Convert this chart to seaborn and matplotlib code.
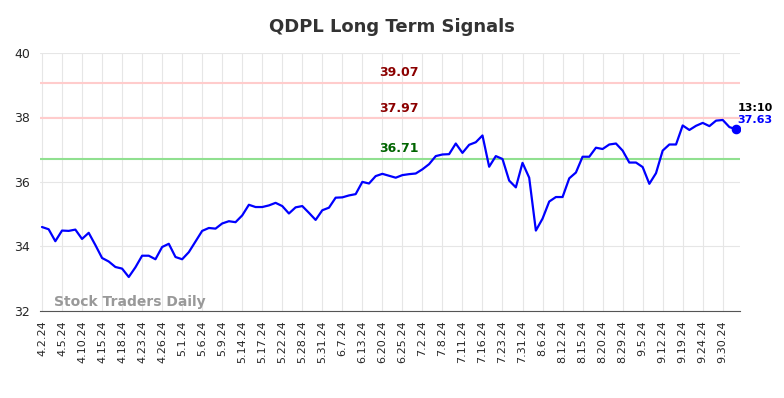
import numpy as np
import pandas as pd
import matplotlib
matplotlib.use("Agg")
import matplotlib.pyplot as plt
import seaborn as sns

ticker = "QDPL"
prices = [34.60, 34.53, 34.16, 34.49, 34.48, 34.52, 34.23, 34.42, 34.04, 33.64,
          33.53, 33.36, 33.31, 33.05, 33.35, 33.71, 33.71, 33.60, 33.98, 34.08,
          33.67, 33.60, 33.82, 34.15, 34.48, 34.57, 34.55, 34.71, 34.78, 34.75,
          34.96, 35.29, 35.22, 35.22, 35.27, 35.35, 35.25, 35.02, 35.21, 35.25,
          35.04, 34.82, 35.12, 35.20, 35.51, 35.52, 35.58, 35.62, 36.00, 35.95,
          36.18, 36.25, 36.19, 36.13, 36.21, 36.24, 36.26, 36.39, 36.55, 36.80,
          36.85, 36.86, 37.19, 36.90, 37.15, 37.23, 37.44, 36.47, 36.80, 36.71,
          36.04, 35.83, 36.59, 36.13, 34.49, 34.86, 35.39, 35.53, 35.53, 36.11,
          36.29, 36.78, 36.78, 37.06, 37.02, 37.16, 37.19, 36.97, 36.60, 36.60,
          36.46, 35.94, 36.27, 36.97, 37.16, 37.16, 37.75, 37.61, 37.74, 37.83,
          37.73, 37.90, 37.92, 37.70, 37.63]
tick_labels = ["4.2.24", "4.5.24", "4.10.24", "4.15.24", "4.18.24", "4.23.24", "4.26.24",
               "5.1.24", "5.6.24", "5.9.24", "5.14.24", "5.17.24", "5.22.24", "5.28.24",
               "5.31.24", "6.7.24", "6.13.24", "6.20.24", "6.25.24", "7.2.24", "7.8.24",
               "7.11.24", "7.16.24", "7.23.24", "7.31.24", "8.6.24", "8.12.24", "8.15.24",
               "8.20.24", "8.29.24", "9.5.24", "9.12.24", "9.19.24", "9.24.24", "9.30.24"]
resistance = [39.07, 37.97]
support = [36.71]
last_time = "13:10"

df = pd.DataFrame({"idx": np.arange(len(prices)), "price": prices})

sns.set_style("whitegrid", {"grid.color": "#e6e6e6"})
fig = plt.figure(figsize=(7.84, 3.98), dpi=100)
ax = fig.add_axes([0.051, 0.219, 0.893, 0.648])

for lvl in resistance:
    ax.axhline(lvl, color="#ffcccc", lw=1.5, zorder=1)
for lvl in support:
    ax.axhline(lvl, color="#90e090", lw=1.5, zorder=1)

sns.lineplot(data=df, x="idx", y="price", ax=ax, color="blue", lw=1.6, zorder=3)
ax.scatter(df["idx"].iloc[-1], df["price"].iloc[-1], color="blue", s=35, zorder=4)

mid = 53.5
for lvl in resistance:
    ax.text(mid, lvl + 0.12, f"{lvl:.2f}", color="#8b0000", fontsize=9,
            fontweight="bold", ha="center", va="bottom")
for lvl in support:
    ax.text(mid, lvl + 0.12, f"{lvl:.2f}", color="#006400", fontsize=9,
            fontweight="bold", ha="center", va="bottom")

ax.text(len(prices) - 0.8, prices[-1] + 0.5, last_time, color="black", fontsize=8,
        fontweight="bold", ha="left", va="bottom")
ax.text(len(prices) - 0.8, prices[-1] + 0.15, f"{prices[-1]:.2f}", color="blue",
        fontsize=8, fontweight="bold", ha="left", va="bottom")

ax.text(1.8, 32.05, "Stock Traders Daily", color="#999999", fontsize=10,
        fontweight="bold", ha="left", va="bottom")

ax.set_xticks(np.arange(0, len(tick_labels) * 3, 3))
ax.set_xticklabels(tick_labels, rotation=90, fontsize=8)
ax.set_yticks([32, 34, 36, 38, 40])
ax.tick_params(axis="y", labelsize=9)
ax.set_xlim(-0.3, 104.6)
ax.set_ylim(32, 40)
ax.set_xlabel("")
ax.set_ylabel("")
for s in ["top", "right", "left"]:
    ax.spines[s].set_visible(False)
ax.spines["bottom"].set_color("#555555")

fig.suptitle(f"{ticker} Long Term Signals", fontsize=13, fontweight="bold",
             color="#333333", y=0.955)

fig.savefig("out.png", dpi=100)
